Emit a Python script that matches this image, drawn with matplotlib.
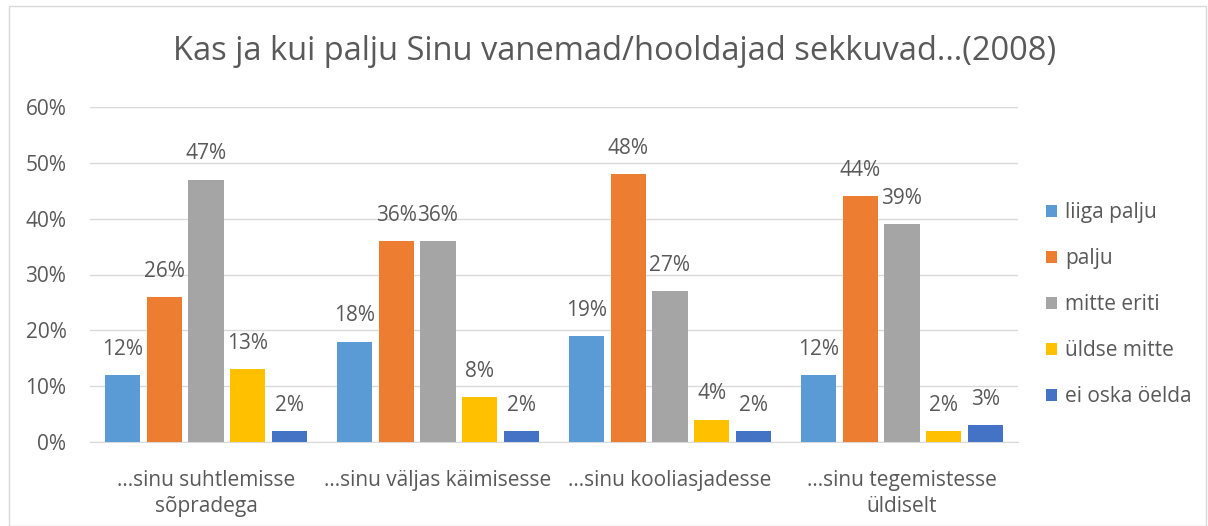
import matplotlib.pyplot as plt
import numpy as np
from matplotlib.patches import Rectangle

categories = ["...sinu suhtlemisse\nsõpradega", "...sinu väljas käimisesse",
              "...sinu kooliasjadesse", "...sinu tegemistesse\nüldiselt"]
series = ["liiga palju", "palju", "mitte eriti", "üldse mitte", "ei oska öelda"]
liiga_palju = [12, 18, 19, 12]
palju = [26, 36, 48, 44]
mitte_eriti = [47, 36, 27, 39]
uldse_mitte = [13, 8, 4, 2]
ei_oska = [2, 2, 2, 3]
values = [liiga_palju, palju, mitte_eriti, uldse_mitte, ei_oska]
colors = ["#5B9BD5", "#ED7D31", "#A5A5A5", "#FFC000", "#4472C4"]

plt.rcParams['font.family'] = ['Open Sans', 'DejaVu Sans']
txt = "#595959"

fig = plt.figure(figsize=(12.08, 5.26), dpi=100)
fig.patches.append(Rectangle((9 / 1208, 0), 1 - 9 / 1208 - 0.002, 1 - 6 / 526,
                             transform=fig.transFigure, fill=False,
                             edgecolor="#D9D9D9", linewidth=1))
ax = fig.add_axes([90 / 1208, 1 - 442 / 526, 928 / 1208, 335 / 526])

x = np.arange(len(categories))
pitch = 0.18
width = 0.152
for i, (name, vals) in enumerate(zip(series, values)):
    pos = x + (i - 2) * pitch
    ax.bar(pos, vals, width, color=colors[i], label=name, zorder=3)
    for xb, v in zip(pos, vals):
        ax.text(xb, v + 4.6, f"{v}%", ha="center", va="center",
                fontsize=15, color=txt)

ax.set_ylim(0, 60)
ax.set_xlim(-0.5, 3.5)
ax.set_yticks(range(0, 61, 10))
ax.set_yticklabels([f"{t}%" for t in range(0, 61, 10)], fontsize=15, color=txt)
ax.set_xticks(x)
ax.set_xticklabels(categories, fontsize=15, color=txt, linespacing=1.3)
ax.tick_params(length=0)
ax.tick_params(axis="x", pad=20)
ax.tick_params(axis="y", pad=17)
ax.grid(axis="y", color="#D9D9D9", linewidth=1, zorder=0)
for s in ["top", "right", "left"]:
    ax.spines[s].set_visible(False)
ax.spines["bottom"].set_color("#D9D9D9")

fig.text(615 / 1208, 1 - 52 / 526, "Kas ja kui palju Sinu vanemad/hooldajad sekkuvad…(2008)",
         ha="center", va="center", fontsize=23.5, color=txt)

ax.legend(loc="center left", bbox_to_anchor=(1.01, 0.41), frameon=False,
          fontsize=15, labelcolor=txt, handlelength=0.55, handleheight=0.55,
          handletextpad=0.35, labelspacing=1.2)

fig.savefig("out.png", dpi=100)
